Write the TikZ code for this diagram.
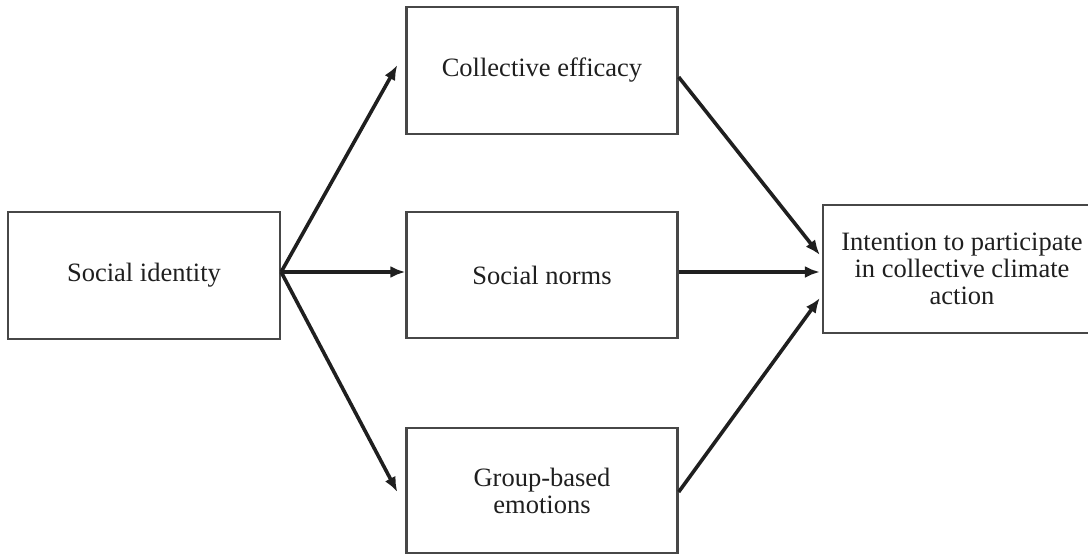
\documentclass[tikz,border=0pt]{standalone}
\usepackage{fontspec}
\setmainfont{Liberation Serif}
\usetikzlibrary{arrows.meta}
\begin{document}
\begin{tikzpicture}[x=1pt,y=-1pt,
  box/.style={draw=black!72, line width=2.3pt, rectangle, align=center,
    inner sep=0pt, font=\fontsize{26.5}{27}\selectfont, text=black!88},
  link/.style={line width=3.6pt, black!88,
    -{Latex[length=15pt,width=12pt]}}]
\useasboundingbox (0,0) rectangle (1088,554);
% boxes
\node[box, minimum width=272pt, minimum height=127pt] (si) at (144,275.5) {Social identity};
\node[box, minimum width=271pt, minimum height=127pt] (ce) at (542,70.5) {Collective efficacy};
\node[box, minimum width=271pt, minimum height=126pt] (sn) at (542,275) {Social norms};
\node[box, minimum width=271pt, minimum height=125pt] (ge) at (542,490.5) {Group-based\\emotions};
\node[box, minimum width=278pt, minimum height=128pt] (it) at (962,269) {Intention to participate\\in collective climate\\action};
% paths from social identity
\draw[link] ([yshift=3.5pt]si.east) -- ([xshift=-8pt,yshift=5.5pt]ce.west);
\draw[link] ([yshift=3.5pt]si.east) -- ([yshift=3pt]sn.west);
\draw[link] ([yshift=3.5pt]si.east) -- ([xshift=-8pt,yshift=-1.5pt]ge.west);
% paths into the outcome
\draw[link] ([yshift=-6.5pt]ce.east) -- ([xshift=-2pt,yshift=14pt]it.west);
\draw[link] ([yshift=3pt]sn.east) -- ([xshift=-2pt,yshift=-3pt]it.west);
\draw[link] ([yshift=-1.5pt]ge.east) -- ([xshift=-2pt,yshift=-29pt]it.west);
\end{tikzpicture}
\end{document}
